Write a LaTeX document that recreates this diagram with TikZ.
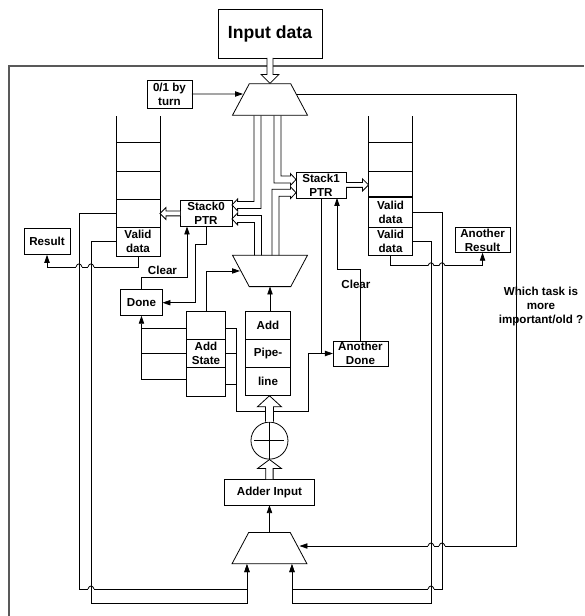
\documentclass[tikz,border=0pt]{standalone}
\usepackage{fontspec}
\setmainfont{Liberation Sans}
\usetikzlibrary{positioning,calc,arrows.meta,shapes.geometric}
\newcommand{\myfont}{\bfseries\fontsize{8.7pt}{10.6pt}\selectfont}
\newcommand{\myfontb}{\bfseries\fontsize{13.2pt}{16pt}\selectfont}
\newcommand{\cellw}{33pt}
\newcommand{\cellh}{21.2pt}
\newcommand{\boxh}{19.5pt}
% small bump of a horizontal line over a vertical one
\newcommand{\hop}[1]{
  \draw[white,line width=1.2pt] ($#1+(-3,0)$) -- ($#1+(3,0)$);
  \draw ($#1+(-3,0)$) .. controls ($#1+(-2,-4)$) and ($#1+(2,-4)$) .. ($#1+(3,0)$);
}
% hollow arrow: from, tip, half shaft, half head, head length
\newcommand{\fatline}[5]{
  \coordinate (fb) at ($(#2)!#5!(#1)$);
  \draw[fill=white] ($(#1)!#3!90:(#2)$) -- ($(fb)!#3!90:(#2)$) -- ($(fb)!#4!90:(#2)$) -- (#2)
  -- ($(fb)!#4!-90:(#2)$) -- ($(fb)!#3!-90:(#2)$) -- ($(#1)!#3!-90:(#2)$);
}
% hollow arrow with one bend: from, tip, twist of the bend, side of the head
\newcommand{\fatbend}[4]{
  \draw let \p1=(#1), \p2=(#2) in
  (\x1-2.6pt,\y1) -- (\x1-2.6pt,\y2+#3*2.6pt) -- (\x2-#4*4.2pt,\y2+#3*2.6pt)
  -- (\x2-#4*4.2pt,\y2+#3*4.5pt) -- (\x2,\y2) -- (\x2-#4*4.2pt,\y2-#3*4.5pt)
  -- (\x2-#4*4.2pt,\y2-#3*2.6pt) -- (\x1+2.6pt,\y2-#3*2.6pt) -- (\x1+2.6pt,\y1);
}
\tikzset{
  block/.style={rectangle, draw=black!100, fill=white, inner sep=0pt, outer sep=0pt,
    align=center, font=\myfont, minimum height=\boxh},
  cell/.style={block, minimum width=\cellw, minimum height=\cellh},
  heavy/.style={line width=1pt},
  mux/.style={trapezium, draw=black!100, trapezium stretches=true,
    trapezium left angle=64, trapezium right angle=64,
    minimum width=56.25pt, minimum height=23.5pt, inner sep=0pt},
  arr/.style={-{Triangle[length=6pt,width=4pt]}}
}

\begin{document}
\begin{tikzpicture}[x=0.75pt, y=-0.75pt, line width=0.6pt]

  \useasboundingbox (0,0) rectangle (584,616);

  % outer frame
  \draw[black!65,line width=1pt] (9,616) -- (9,66) -- (584,66);

  % input data
  \node [block, minimum width=78pt, minimum height=36.75pt, font=\myfontb] (input) at (270,33.5) {Input data};

  % top mux
  \node [mux, below=49.5pt of input.center, anchor=center] (muxa) {\phantom{M}};

  % 0/1 by turn
  \node [block, minimum width=33.75pt, minimum height=21pt,
  left=75.4pt of muxa.center, anchor=center, yshift=4.1pt] (turn) {0/1 by\\turn};

  % stack 0
  \node [cell, below left=43.1pt and 99pt of muxa.center, anchor=center] (la1) {};
  \node [cell, below=0pt of la1] (la2) {};
  \node [cell, below=0pt of la2] (la3) {};
  \node [cell, below=0pt of la3] (la4) {Valid\\data};

  % stack 0 pointer
  \node [block, minimum width=39pt, right=51pt of la3.center, anchor=center] (ptr0) {Stack0\\PTR};

  % result
  \node [block, minimum width=34.5pt, left=68.25pt of la4.center, anchor=center] (result) {Result};

  % stack 1
  \node [cell, right=189.4pt of la1.center, anchor=center] (rb1) {};
  \node [cell, minimum height=19.5pt, below=0pt of rb1] (rb2) {};
  \node [cell, minimum height=22.8pt, heavy, below=0pt of rb2] (rb3) {Valid\\data};
  \node [cell, heavy, below=0pt of rb3] (rb4) {Valid\\data};

  % stack 1 pointer
  \node [block, minimum width=37.5pt, below right=64.1pt and 38.25pt of muxa.center, anchor=center] (ptr1) {Stack1\\PTR};

  % another result
  \node [block, minimum width=41.25pt, minimum height=18.75pt,
  right=69pt of rb4.center, anchor=center, yshift=1.1pt] (resultb) {Another\\Result};

  % middle mux
  \node [mux, shape border rotate=180, below=128.6pt of muxa.center, anchor=center] (muxb) {\phantom{M}};

  % add pipeline
  \node [block, minimum width=33.75pt, minimum height=21.2pt,
  below left=30pt and 1.5pt of muxb.center, anchor=north] (add1) {Add};
  \node [block, heavy, minimum width=33.75pt, minimum height=21.2pt, below=0pt of add1] (add2) {Pipe-};
  \node [block, minimum width=33.75pt, minimum height=21.2pt, below=0pt of add2] (add3) {line};

  % add state
  \node [block, heavy, minimum width=29.25pt, minimum height=21.6pt, left=46.5pt of add2.center, anchor=center] (st2) {Add\\State};
  \node [block, minimum width=29.25pt, minimum height=20.6pt, above=0pt of st2] (st1) {};
  \node [block, minimum width=29.25pt, minimum height=21.6pt, below=0pt of st2] (st3) {};

  % done
  \node [block, minimum width=31.5pt, above left=16.9pt and 48.4pt of st1.center, anchor=center] (done) {Done};
  \node [font=\myfont, above right=24pt and 15.75pt of done.center, anchor=center, inner sep=0pt] (clra) {Clear};

  % another done
  \node [block, minimum width=41.25pt, minimum height=18.75pt,
  below right=126.4pt and 29.6pt of ptr1.center, anchor=center] (doneb) {Another\\Done};
  \node [font=\myfont, above left=52.1pt and 3.4pt of doneb.center, anchor=center, inner sep=0pt] (clrb) {Clear};

  % adder
  \node [circle, draw=black!100, minimum size=27.75pt, inner sep=0pt,
  below right=44.25pt and 1.1pt of add3.center, anchor=center] (adder) {};
  \draw ($(adder.center)+(-15,0)$) -- ($(adder.center)+(15,0)$);
  \draw (adder.north) -- (adder.south);

  % adder input
  \node [block, minimum width=67.5pt, below=38.6pt of adder.center, anchor=center] (adderin) {Adder Input};

  % bottom mux
  \node [mux, below=42pt of adderin.center, anchor=center] (muxc) {\phantom{M}};

  % question
  \node [font=\myfont, align=center, inner sep=0pt, above right=34.9pt and 204.75pt of add2.center, anchor=center] (which) {Which task is\\more\\important/old ?};

  % open tops of the stacks
  \draw (la1.north west) -- ++(0,-27);
  \draw (la1.north east) -- ++(0,-27);
  \draw (rb1.north west) -- ++(0,-27);
  \draw (rb1.north east) -- ++(0,-27);

  % rails and ports
  \coordinate (rail0) at (79,589);
  \coordinate (rail1) at (91,603);
  \coordinate (rail2) at (442,589);
  \coordinate (rail3) at (431,603);
  \coordinate (porta) at ($(muxc.south)+(-22.5,0)$);
  \coordinate (portb) at ($(muxc.south)+(22.5,0)$);
  \coordinate (resa) at ($(la4.south)+(0,11)$);
  \coordinate (resb) at ($(rb4.south)+(0,10)$);
  \coordinate (prio) at (516,546);
  \coordinate (muxcr) at ($(muxc.center)+(30,0)$);
  \coordinate (busd) at ($(add3.south)+(-31.5,16)$);

  % input to mux
  \fatline{input.south}{muxa.north}{2.25pt}{6.75pt}{6.75pt}

  % turn to mux
  \draw[arr] (turn.east) -- ($(muxa.center)+(-27,-5.5)$);

  % mux to bottom mux, which task
  \draw[arr] ($(muxa.center)+(27,-5.5)$) -| (prio) -- (prio -| muxcr);
  \hop{(rail2 |- prio)}
  \hop{(rail3 |- prio)}

  % results
  \draw[arr] (la4.south) |- (resa) -| (result.south);
  \hop{(rail0 |- resa)}
  \hop{(rail1 |- resa)}
  \draw[arr] (rb4.south) |- (resb) -| (resultb.south);
  \hop{(rail3 |- resb)}
  \hop{(rail2 |- resb)}

  % stacks to bottom mux
  \draw[arr] (la3.west) -| (rail0) -| (porta);
  \hop{(rail1 |- rail0)}
  \draw[arr] (la4.west) -| (rail1) -| (porta);
  \draw[arr] (rb3.east) -| (rail2) -| (portb);
  \hop{(rail3 |- rail2)}
  \draw[arr] (rb4.east) -| (rail3) -| (portb);

  % mux to pointers
  \coordinate (outa) at ($(muxa.south)+(-12.5,0)$);
  \coordinate (outb) at ($(muxb.center)+(-12,-15.5)$);
  \coordinate (outc) at ($(muxa.south)+(7.5,0)$);
  \coordinate (outd) at ($(muxb.center)+(5.5,-15.5)$);
  \coordinate (tipa) at ([yshift=6.4pt]ptr0.east);
  \coordinate (tipb) at ([yshift=-4.1pt]ptr0.east);
  \coordinate (tipc) at ([yshift=4.1pt]ptr1.west);
  \coordinate (tipd) at ([yshift=-5.8pt]ptr1.west);
  \fatbend{outa}{tipa}{1}{-1}
  \fatbend{outb}{tipb}{-1}{-1}
  \fatbend{outc}{tipc}{-1}{1}
  \fatbend{outd}{tipd}{1}{1}

  % pointers to stacks
  \fatline{ptr0.west}{la3.east}{1.8pt}{4.5pt}{4.5pt}
  \coordinate (tipe) at (ptr1.east -| rb2.west);
  \fatline{ptr1.east}{tipe}{1.8pt}{4.5pt}{4.5pt}

  % pointer 0 to done, clear
  \coordinate (benda) at ($(ptr0.south)+(-11,18)$);
  \draw[arr] (ptr0.south) |- (benda) |- (done.east);
  \coordinate (clrain) at ($(ptr0.south)+(-19,0)$);
  \draw[arr] (done.north) -- ++(0,-12) -| (clrain);

  % pointer 1 to another done, clear
  \draw (ptr1.south) -- (ptr1.south |- doneb.west);
  \coordinate (clrbin) at ($(ptr1.south)+(16,0)$);
  \draw[arr] (doneb.north) -- ++(0,-72) -| (clrbin);

  % add state to done
  \draw ([yshift=-2.6pt]st1.west) -- ([yshift=-2.6pt]st1.west -| done.south);
  \draw (st2.west) -- (st2.west -| done.south);
  \draw[arr] ([yshift=1.9pt]st3.west) -| (done.south);

  % add state to mux
  \draw[arr] (st1.north) |- ($(muxb.center)+(-30,0)$);

  % add state to another done
  \draw[arr] ([yshift=-2.6pt]st1.east) -| (busd) -- ++(72,0) |- (doneb.west);
  \draw (st2.east) -- (st2.east -| busd);
  \draw ([yshift=-1.9pt]st3.east) -- ([yshift=-1.9pt]st3.east -| busd);

  % pipeline
  \draw[arr] (muxb.center |- add1.north) -- ($(muxb.center)+(0,15.5)$);
  \coordinate (tipf) at (adder.north |- add3.south);
  \fatline{adder.north}{tipf}{3pt}{9pt}{8.25pt}
  \fatline{adderin.north}{adder.south}{2.75pt}{9pt}{6.75pt}
  \draw[arr] (muxc.north) -- (adderin.south);

\end{tikzpicture}
\end{document}
